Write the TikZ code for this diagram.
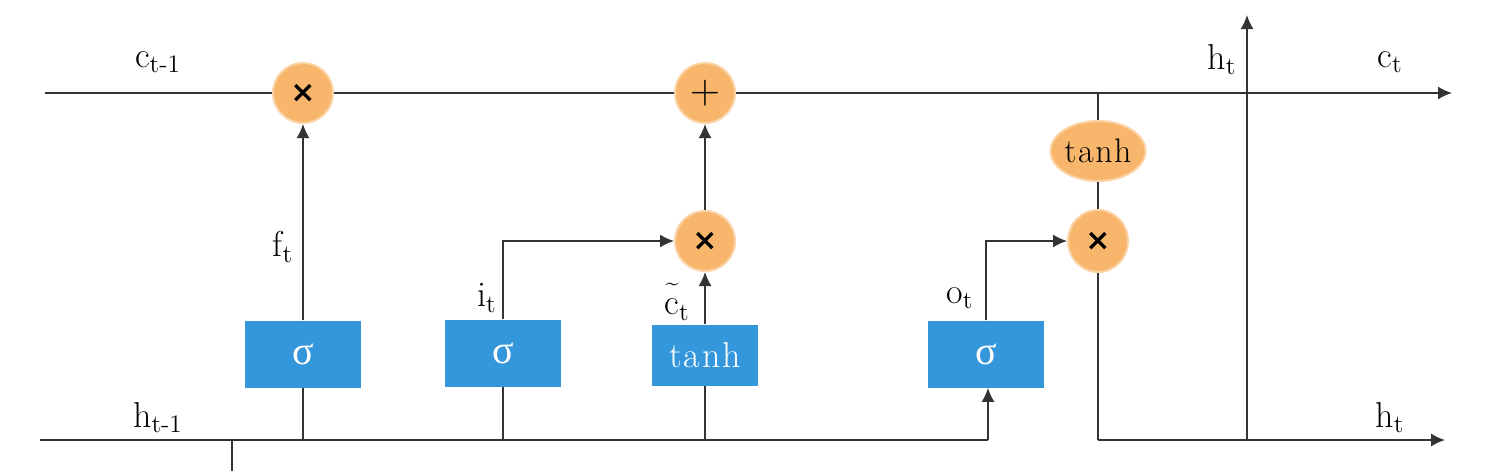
\documentclass[tikz,border=0pt]{standalone}
\usepackage{fontspec}
\newfontfamily\symfont{DejaVu Sans}
\newfontfamily\sigfont{Liberation Serif}
\usetikzlibrary{arrows.meta,shapes.geometric}
\definecolor{orng}{HTML}{F8B66C}
\definecolor{orngedge}{HTML}{FBD3A6}
\definecolor{blu}{HTML}{3497DB}
\definecolor{ln}{HTML}{333333}
\newcommand{\spaced}{t\kern0.8pt a\kern0.8pt n\kern0.8pt h}
\begin{document}
\begin{tikzpicture}[x=0.5pt,y=-0.5pt,
  op/.style={circle,fill=orng,draw=orngedge,line width=1pt,inner sep=0pt,minimum size=30pt,font=\symfont\fontsize{15}{16}\selectfont},
  gate/.style={rectangle,fill=blu,draw=none,inner sep=0pt,minimum width=58pt,minimum height=33.5pt,text=white,font=\fontsize{18}{20}\selectfont},
  lab/.style={font=\fontsize{18}{20}\selectfont,inner sep=0pt},
  wire/.style={draw=ln,line width=0.8pt},
  arr/.style={wire,-{Latex[length=7pt,width=6.5pt]}}]
\useasboundingbox (0,0) rectangle (1507,471);
\fill[white] (0,0) rectangle (1507,471);
% nodes
\node[op] (fx) at (303,93) {\textbf{×}};
\node[op,font=\fontsize{20}{20}\selectfont] (plus) at (705,93) {$+$};
\node[op] (ix) at (705,241) {\textbf{×}};
\node[op,minimum width=30pt,minimum height=31pt,ellipse] (ox) at (1098,241) {\textbf{×}};
\node[ellipse,fill=orng,draw=orngedge,line width=1pt,inner sep=0pt,minimum width=46pt,minimum height=30pt,font=\fontsize{17}{20}\selectfont] (th) at (1098,151) {\spaced};
\node[gate,font=\sigfont\fontsize{20}{20}\selectfont] (fg) at (303,354) {σ};
\node[gate,font=\sigfont\fontsize{20}{20}\selectfont] (ig) at (503,353) {σ};
\node[gate,minimum width=53pt,minimum height=30.5pt] (cg) at (705,355) {\spaced};
\node[gate,font=\sigfont\fontsize{20}{20}\selectfont] (og) at (986,354) {σ};
% coordinates
\coordinate (cin) at (45,93);
\coordinate (cout) at (1452,93);
\coordinate (hin) at (40,440);
\coordinate (hturn) at (988,440);
\coordinate (xin) at (232,471);
\coordinate (xj) at (232,440);
\coordinate (fb) at (303,440);
\coordinate (ib) at (503,440);
\coordinate (cb) at (705,440);
\coordinate (tapc) at (1098,93);
\coordinate (hcorner) at (1098,440);
\coordinate (hout) at (1445,440);
\coordinate (hbase) at (1247,440);
\coordinate (hup) at (1247,15);
\coordinate (ibend) at (503,241);
\coordinate (obend) at (986,241);
% top cell line
\draw[wire] (cin) -- (fx);
\draw[wire] (fx) -- (plus);
\draw[arr] (plus) -- (cout);
% bottom h line
\draw[wire] (hin) -- (hturn);
\draw[arr] (hturn) -- (og.south -| hturn);
\draw[wire] (xj) -- (xin);
\draw[wire] (fb) -- (fg);
\draw[wire] (ib) -- (ig);
\draw[wire] (cb) -- (cg);
% gates to ops
\draw[arr] (fg) -- (fx);
\draw[arr] (ig.north) -- (ibend) -- (ix);
\draw[arr] (cg) -- (ix);
\draw[arr] (ix) -- (plus);
\draw[arr] (og.north) -- (obend) -- (ox);
% output
\draw[wire] (tapc) -- (th);
\draw[wire] (th) -- (ox);
\draw[wire] (ox) -- (hcorner);
\draw[arr] (hcorner) -- (hout);
\draw[arr] (hbase) -- (hup);
% labels
\node[lab] (lc1) at (158,62) {c\textsubscript{t-1}};
\node[lab] (lh1) at (158,418) {h\textsubscript{t-1}};
\node[lab] (lf) at (283,247) {f\textsubscript{t}};
\node[lab] (li) at (487,298) {i\textsubscript{t}};
\node[lab] (lct) at (677,302) {\makebox[0pt][l]{\hspace{0.5pt}\raisebox{12pt}{\fontsize{12}{12}\selectfont\~{}}}c\textsubscript{t}};
\node[lab] (lo) at (960,298) {o\textsubscript{t}};
\node[lab] (lht) at (1222,60) {h\textsubscript{t}};
\node[lab] (lcto) at (1390,62) {c\textsubscript{t}};
\node[lab] (lhto) at (1390,418) {h\textsubscript{t}};
\end{tikzpicture}
\end{document}
